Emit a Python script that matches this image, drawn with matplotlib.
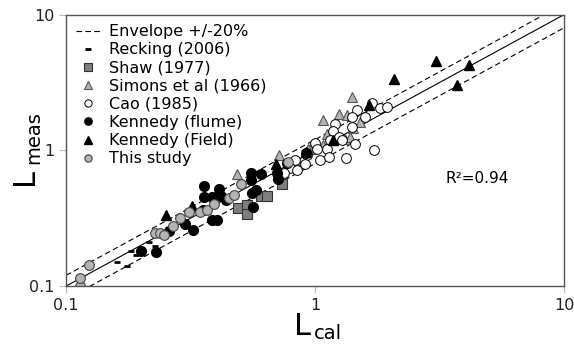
import numpy as np
import matplotlib
matplotlib.use("Agg")
import matplotlib.pyplot as plt

# data (L_cal, L_meas)
recking_x = [0.160, 0.176, 0.182, 0.191, 0.216, 0.228]
recking_y = [0.150, 0.140, 0.181, 0.169, 0.211, 0.197]

shaw_x = [0.491, 0.533, 0.533, 0.607, 0.641, 0.736]
shaw_y = [0.375, 0.394, 0.338, 0.459, 0.459, 0.562]

simons_x = [0.486, 0.717, 0.839, 0.955, 1.08, 1.25, 1.34, 1.41, 1.12, 1.42,
            1.08, 1.18, 1.32, 1.38, 0.937, 1.52]
simons_y = [0.667, 0.919, 0.844, 1.02, 1.66, 1.84, 1.81, 2.49, 1.33, 1.45,
            1.09, 1.19, 1.22, 1.25, 1.02, 1.61]

cao_x = [1.69, 1.47, 1.82, 1.95, 1.59, 1.40, 1.20, 1.41, 1.18, 1.25, 1.00, 1.02,
         1.12, 0.929, 0.831, 0.912, 1.05, 1.14, 1.45, 1.33, 1.73, 0.795, 0.847,
         0.752, 1.15, 1.28]
cao_y = [2.22, 1.97, 2.04, 2.07, 1.75, 1.75, 1.55, 1.48, 1.38, 1.25, 1.13, 1.03,
         1.03, 0.919, 0.844, 0.789, 0.844, 0.889, 1.11, 0.873, 1.00, 0.738, 0.713,
         0.677, 1.19, 1.19]

kflume_x = [0.200, 0.230, 0.259, 0.301, 0.324, 0.358, 0.358, 0.386, 0.411, 0.419,
            0.439, 0.386, 0.404, 0.553, 0.607, 0.553, 0.580, 0.558, 0.564, 0.703,
            0.710, 0.773, 0.920, 0.355]
kflume_y = [0.181, 0.178, 0.254, 0.286, 0.258, 0.544, 0.451, 0.451, 0.517, 0.459,
            0.428, 0.306, 0.306, 0.677, 0.667, 0.601, 0.508, 0.483, 0.381, 0.677,
            0.612, 0.802, 0.951, 0.362]

kfield_x = [0.252, 0.321, 0.697, 0.920, 1.18, 1.65, 2.07, 3.06, 4.15, 3.72]
kfield_y = [0.333, 0.388, 0.789, 0.967, 1.20, 2.14, 3.33, 4.51, 4.22, 3.01]

study_x = [0.114, 0.114, 0.124, 0.228, 0.239, 0.248, 0.269, 0.287, 0.312, 0.345,
           0.368, 0.393, 0.452, 0.473, 0.505, 0.780]
study_y = [0.100, 0.115, 0.143, 0.245, 0.245, 0.237, 0.276, 0.316, 0.350, 0.350,
           0.362, 0.401, 0.443, 0.467, 0.562, 0.817]

fig = plt.figure(figsize=(5.74, 3.46), dpi=100)
ax = fig.add_axes([0.115, 0.173, 0.868, 0.785])

line = np.array([0.1, 10])
ax.plot(line, line * 1.2, 'k--', lw=0.8, dashes=(5, 3), label='Envelope +/-20%')
ax.plot(line, line, 'k-', lw=0.8)
ax.plot(line, line * 0.8, 'k--', lw=0.8, dashes=(5, 3))

ms = 7
ax.plot(recking_x, recking_y, '_', color='k', ms=5, mew=2, ls='none', label='Recking (2006)')
ax.plot(shaw_x, shaw_y, 's', mfc='#7f7f7f', mec='#333333', mew=0.8, ms=ms, ls='none', label='Shaw (1977)')
ax.plot(simons_x, simons_y, '^', mfc='#b3b3b3', mec='#555555', mew=0.8, ms=ms, ls='none', label='Simons et al (1966)')
ax.plot(cao_x, cao_y, 'o', mfc='white', mec='k', mew=0.7, ms=ms, ls='none', label='Cao (1985)')
ax.plot(kflume_x, kflume_y, 'o', mfc='k', mec='k', ms=ms, ls='none', label='Kennedy (flume)')
ax.plot(kfield_x, kfield_y, '^', mfc='k', mec='k', ms=ms, ls='none', label='Kennedy (Field)')
ax.plot(study_x, study_y, 'o', mfc='#b3b3b3', mec='#444444', mew=0.8, ms=ms, ls='none', label='This study')

ax.set_xscale('log')
ax.set_yscale('log')
ax.set_xlim(0.1, 10)
ax.set_ylim(0.1, 10)
ax.set_xticks([0.1, 1, 10])
ax.set_xticklabels(['0.1', '1', '10'])
ax.set_yticks([0.1, 1, 10])
ax.set_yticklabels(['0.1', '1', '10'])
ax.minorticks_off()
ax.tick_params(length=5, color='#bbbbbb', labelsize=11.5, labelcolor='#222222')
for s in ax.spines.values():
    s.set_color('#555555')
    s.set_linewidth(1)

ax.text(0.761, 0.38, 'R\u00b2=0.94', transform=ax.transAxes, fontsize=11)

leg = ax.legend(loc='upper left', frameon=False, fontsize=11.5, handlelength=1.6,
                labelspacing=0.2, handletextpad=0.5, borderaxespad=0.2, markerscale=0.75)

# axis titles: big L with small subscript
fig.text(0.512, 0.015, 'L', fontsize=22, ha='left', va='bottom')
fig.text(0.547, 0.008, 'cal', fontsize=14, ha='left', va='bottom')
fig.text(0.018, 0.465, 'L', fontsize=22, rotation=90, ha='left', va='bottom')
fig.text(0.042, 0.525, 'meas', fontsize=14, rotation=90, ha='left', va='bottom')

fig.savefig('out.png', dpi=100)
